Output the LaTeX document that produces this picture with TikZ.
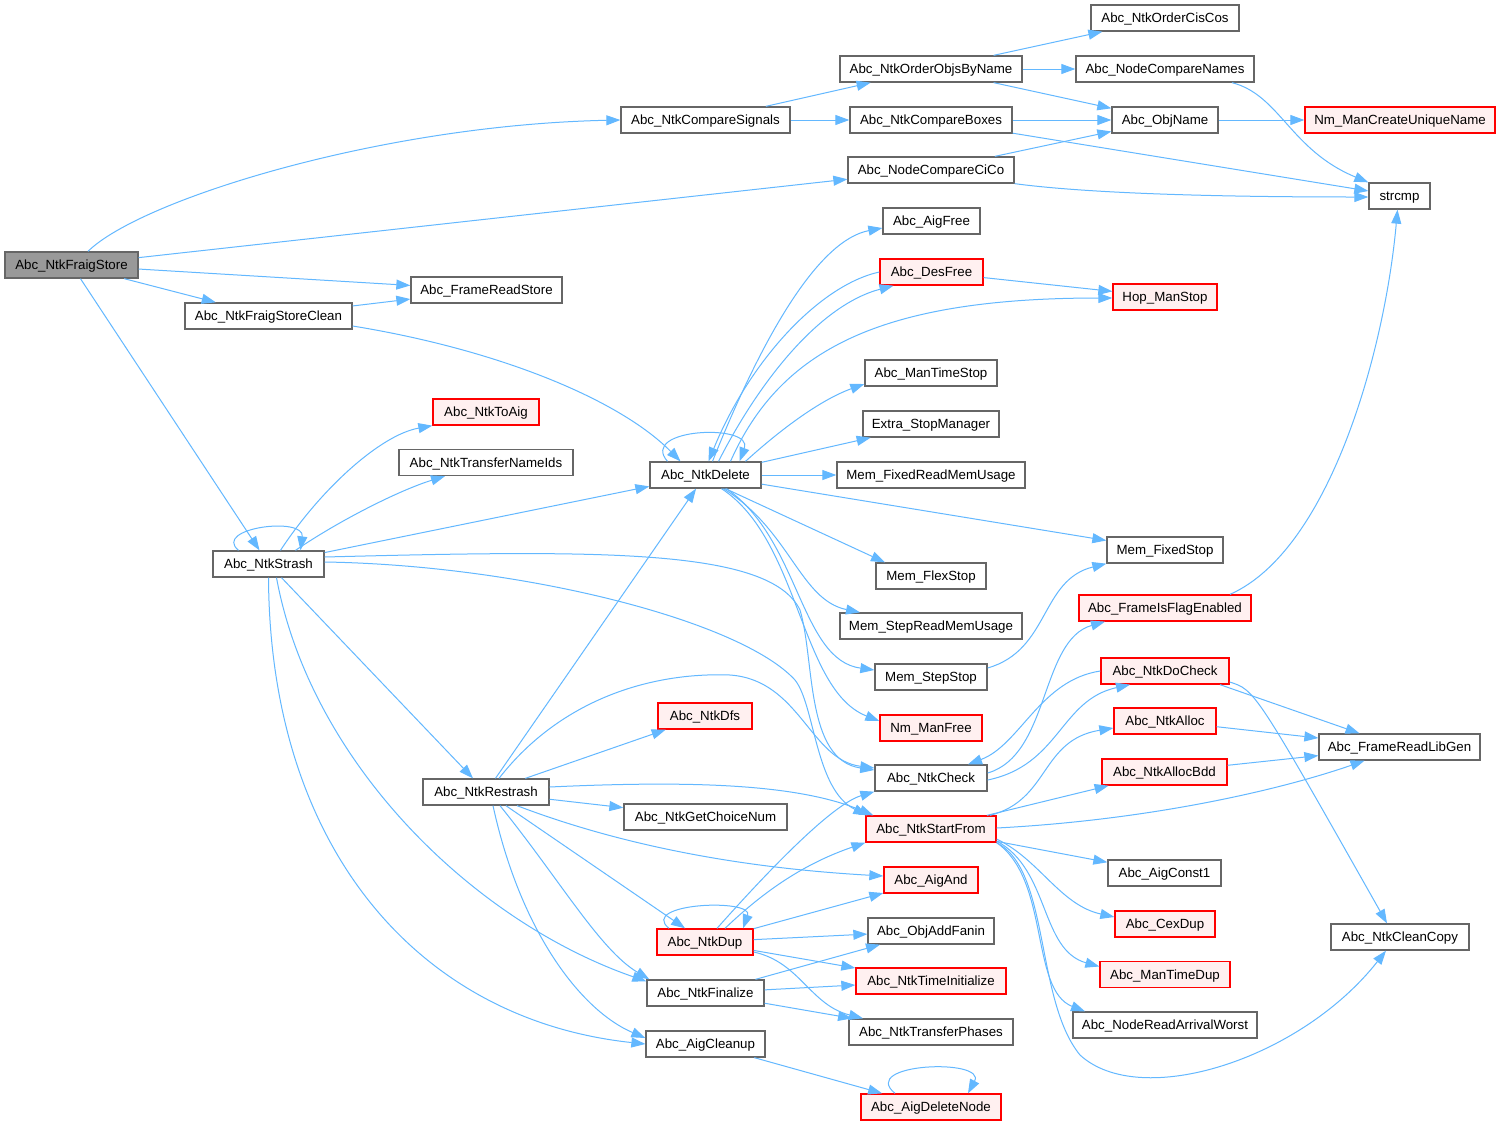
\documentclass[tikz,border=0pt]{standalone}
\usepackage{fontspec}
\setmainfont{Liberation Sans}
\usetikzlibrary{arrows.meta}
\definecolor{edgeblue}{HTML}{63B8FF}
\definecolor{nodegray}{HTML}{666666}
\definecolor{nodered}{HTML}{FF0000}
\definecolor{nodepink}{HTML}{FFF0F0}
\definecolor{rootgray}{HTML}{999999}
\newcommand{\fsz}{\fontsize{13.3}{16}\selectfont}
\tikzset{
  box/.style={draw=nodegray, fill=white, line width=1.3pt, minimum height=26pt, inner sep=0pt, text height=9.6pt, text depth=0pt, font=\fsz, text=black},
  redbox/.style={box, draw=nodered, fill=nodepink},
  rootbox/.style={box, fill=rootgray},
  e/.style={draw=edgeblue, line width=1pt, -{Triangle[length=14pt,width=10pt]}}
}
\begin{document}
\begin{tikzpicture}[x=1pt,y=-1pt]
\useasboundingbox[fill=white] (0,0) rectangle (1500,1125);
% nodes
\node[rootbox, minimum width=133pt] (fs) at (71.5,265) {Abc\_NtkFraigStore};
\node[box, minimum width=167pt] (fsc) at (268.5,316) {Abc\_NtkFraigStoreClean};
\node[box, minimum width=169pt] (cs) at (705.5,120) {Abc\_NtkCompareSignals};
\node[box, minimum width=182pt] (oobn) at (931,69) {Abc\_NtkOrderObjsByName};
\node[box, minimum width=162pt] (cb) at (931,120) {Abc\_NtkCompareBoxes};
\node[box, minimum width=166pt] (ncc) at (931,170) {Abc\_NodeCompareCiCo};
\node[box, minimum width=148pt] (ocic) at (1165,18) {Abc\_NtkOrderCisCos};
\node[box, minimum width=178pt] (ncn) at (1165,69) {Abc\_NodeCompareNames};
\node[box, minimum width=106pt] (on) at (1165,120) {Abc\_ObjName};
\node[redbox, minimum width=190pt] (nmcu) at (1400,120) {Nm\_ManCreateUniqueName};
\node[box, minimum width=61pt] (strcmp) at (1399.5,196) {strcmp};
\node[box, minimum width=151pt] (frs) at (486.5,290) {Abc\_FrameReadStore};
\node[box, minimum width=97pt] (aigfree) at (931.5,221) {Abc\_AigFree};
\node[redbox, minimum width=103pt] (desfree) at (931.5,272) {Abc\_DesFree};
\node[redbox, minimum width=104pt] (hop) at (1165,297) {Hop\_ManStop};
\node[box, minimum width=132pt] (mts) at (931,373) {Abc\_ManTimeStop};
\node[box, minimum width=136pt] (esm) at (931,424) {Extra\_StopManager};
\node[box, minimum width=111pt] (del) at (705.5,475) {Abc\_NtkDelete};
\node[box, minimum width=188pt] (mfrmu) at (931,475) {Mem\_FixedReadMemUsage};
\node[box, minimum width=116pt] (mfs) at (1165,550) {Mem\_FixedStop};
\node[box, minimum width=110pt] (mflex) at (931,576) {Mem\_FlexStop};
\node[box, minimum width=182pt] (msrmu) at (931,626) {Mem\_StepReadMemUsage};
\node[box, minimum width=112pt] (mss) at (931,677) {Mem\_StepStop};
\node[redbox, minimum width=102pt] (nmfree) at (931,728) {Nm\_ManFree};
\node[box, minimum width=112pt] (chk) at (931,778) {Abc\_NtkCheck};
\node[redbox, minimum width=130pt] (sf) at (931,829) {Abc\_NtkStartFrom};
\node[redbox, minimum width=94pt] (aigand) at (931,880) {Abc\_AigAnd};
\node[box, minimum width=126pt] (oaf) at (931,931) {Abc\_ObjAddFanin};
\node[redbox, minimum width=150pt] (nti) at (931,981) {Abc\_NtkTimeInitialize};
\node[box, minimum width=164pt] (ntp) at (931,1032) {Abc\_NtkTransferPhases};
\node[redbox, minimum width=140pt] (adn) at (931,1107) {Abc\_AigDeleteNode};
\node[redbox, minimum width=106pt] (toaig) at (486,412) {Abc\_NtkToAig};
\node[box, minimum width=174pt] (tni) at (486,462.5) {Abc\_NtkTransferNameIds};
\node[box, minimum width=111pt] (strash) at (268.5,564) {Abc\_NtkStrash};
\node[redbox, minimum width=94pt] (dfs) at (705,716) {Abc\_NtkDfs};
\node[box, minimum width=126pt] (restrash) at (486,792) {Abc\_NtkRestrash};
\node[box, minimum width=163pt] (gcn) at (705.5,817) {Abc\_NtkGetChoiceNum};
\node[redbox, minimum width=96pt] (dup) at (705,942) {Abc\_NtkDup};
\node[box, minimum width=117pt] (fin) at (705.5,993) {Abc\_NtkFinalize};
\node[box, minimum width=119pt] (clean) at (705.5,1044) {Abc\_AigCleanup};
\node[redbox, minimum width=172pt] (fife) at (1165,608) {Abc\_FrameIsFlagEnabled};
\node[redbox, minimum width=128pt] (docheck) at (1165,671) {Abc\_NtkDoCheck};
\node[redbox, minimum width=102pt] (alloc) at (1165,721) {Abc\_NtkAlloc};
\node[redbox, minimum width=125pt] (allocbdd) at (1164.5,772) {Abc\_NtkAllocBdd};
\node[box, minimum width=161pt] (libgen) at (1399.5,747) {Abc\_FrameReadLibGen};
\node[box, minimum width=113pt] (const1) at (1164.5,873) {Abc\_AigConst1};
\node[redbox, minimum width=100pt] (cex) at (1165,924) {Abc\_CexDup};
\node[redbox, minimum width=130pt] (mtd) at (1165,974.5) {Abc\_ManTimeDup};
\node[box, minimum width=184pt] (nraw) at (1165,1025) {Abc\_NodeReadArrivalWorst};
\node[box, minimum width=138pt] (ccopy) at (1400,937) {Abc\_NtkCleanCopy};
% edges from Abc_NtkFraigStore
\draw[e] ([xshift=16.5pt]fs.north) .. controls (140,200) and (380,125) .. (cs.west);
\draw[e] (fs) -- (ncc);
\draw[e] (fs) -- (frs);
\draw[e] (fs) -- (fsc);
\draw[e] (fs) -- (strash);
\draw[e] (fsc) -- (frs);
\draw[e] ([yshift=-10pt]fsc.east) .. controls (500,350) and (620,400) .. ([xshift=-25pt]del.north);
% compare signals group
\draw[e] (cs) -- (oobn);
\draw[e] (cs) -- (cb);
\draw[e] (oobn) -- (ocic);
\draw[e] (oobn) -- (ncn);
\draw[e] (oobn) -- (on);
\draw[e] (cb) -- (on);
\draw[e] (cb) -- (strcmp);
\draw[e] (ncc) -- (on);
\draw[e] (ncc.south east) .. controls (1100,195) and (1250,197) .. ([yshift=-1pt]strcmp.west);
\draw[e] ([xshift=67pt]ncn.south) .. controls (1280,95) and (1290,150) .. (strcmp.north west);
\draw[e] (on) -- (nmcu);
\draw[e] ([xshift=65pt]fife.north) .. controls (1330,550) and (1385,350) .. ([xshift=-2pt]strcmp.south);
% Abc_NtkStrash
\draw[e] ([xshift=-30pt]strash.north) .. controls (212,528) and (305,516) .. ([xshift=32pt]strash.north);
\draw[e] ([xshift=12pt]strash.north) .. controls (320,490) and (380,435) .. (toaig.south west);
\draw[e] ([xshift=27pt]strash.north) .. controls (340,520) and (400,490) .. ([xshift=-41pt]tni.south);
\draw[e] (strash) -- (del);
\draw[e] ([yshift=7pt]strash.east) .. controls (600,550) and (770,548) .. (800,610) .. controls (815,660) and (805,760) .. ([yshift=8pt]chk.west);
\draw[e] ([yshift=2pt]strash.east) .. controls (520,565) and (740,620) .. (795,680) .. controls (815,705) and (815,790) .. ([xshift=2pt]sf.north west);
\draw[e] (strash) -- (restrash);
\draw[e] ([xshift=8pt]strash.south) .. controls (310,760) and (470,920) .. ([yshift=-2pt]fin.north west);
\draw[e] (strash.south) .. controls (270,850) and (420,1020) .. (clean.west);
% Abc_NtkRestrash
\draw[e] (restrash) -- (del);
\draw[e] (restrash) -- (dfs);
\draw[e] ([xshift=13pt]restrash.north) .. controls (560,700) and (650,672) .. (730,675) .. controls (800,680) and (810,760) .. ([yshift=10pt]chk.west);
\draw[e] ([yshift=5pt]restrash.east) .. controls (700,780) and (800,785) .. ([xshift=8pt]sf.north west);
\draw[e] (restrash) -- (gcn);
\draw[e] ([xshift=31pt]restrash.south) .. controls (620,845) and (740,868) .. ([yshift=4pt]aigand.west);
\draw[e] (restrash) -- (dup);
\draw[e] ([xshift=14pt]restrash.south) .. controls (560,880) and (600,950) .. ([xshift=3pt]fin.north west);
\draw[e] ([xshift=7pt]restrash.south) .. controls (520,930) and (580,1010) .. ([yshift=6pt]clean.west);
% Abc_NtkDelete
\draw[e] ([xshift=-38pt]del.north) .. controls (638,428) and (754,423) .. ([xshift=34pt]del.north);
\draw[e] ([xshift=7pt]del.north) .. controls (765,330) and (820,240) .. ([yshift=-7pt]aigfree.west);
\draw[e] ([xshift=13pt]del.north) .. controls (760,380) and (820,305) .. ([xshift=-38pt]desfree.south);
\draw[e] (desfree.west) .. controls (820,285) and (750,360) .. ([xshift=3pt]del.north);
\draw[e] ([xshift=25pt]del.north) .. controls (780,350) and (880,298) .. ([yshift=-1pt]hop.west);
\draw[e] (desfree) -- (hop);
\draw[e] ([xshift=40pt]del.north) .. controls (780,430) and (820,400) .. ([yshift=-11pt]mts.west);
\draw[e] (del) -- (esm);
\draw[e] (del) -- (mfrmu);
\draw[e] (del) -- (mfs);
\draw[e] ([xshift=20pt]del.south) -- ([xshift=-46pt]mflex.north);
\draw[e] ([xshift=18pt]del.south) .. controls (790,530) and (800,600) .. ([xshift=-71pt]msrmu.north);
\draw[e] ([xshift=21pt]del.south) .. controls (800,540) and (800,660) .. ([yshift=7pt]mss.west);
\draw[e] ([xshift=16pt]del.south) .. controls (800,540) and (800,690) .. ([yshift=7pt]nmfree.west);
% Abc_NtkCheck
\draw[e] ([yshift=5pt]chk.east) .. controls (1050,755) and (1040,640) .. ([xshift=-60pt]fife.south);
\draw[e] ([yshift=-2pt]chk.east) .. controls (1060,765) and (1060,700) .. ([xshift=-35pt]docheck.south);
\draw[e] (docheck.west) .. controls (1040,680) and (1020,745) .. ([xshift=37pt]chk.north);
% Abc_NtkStartFrom
\draw[e] ([xshift=59pt]sf.north) .. controls (1050,800) and (1040,740) .. ([yshift=-7pt]alloc.west);
\draw[e] (sf) -- (allocbdd);
\draw[e] ([yshift=1pt]sf.east) .. controls (1150,820) and (1280,790) .. ([xshift=-35pt]libgen.south);
\draw[e] (sf) -- (const1);
\draw[e] ([yshift=-10pt]sf.east) .. controls (1040,860) and (1060,905) .. ([yshift=7pt]cex.west);
\draw[e] ([yshift=-12pt]sf.east) .. controls (1050,870) and (1040,950) .. ([yshift=8pt]mtd.west);
\draw[e] (sf.south east) .. controls (1050,880) and (1030,990) .. ([xshift=-80pt]nraw.north);
\draw[e] (sf.south east) .. controls (1050,870) and (1035,1000) .. (1080,1055) .. controls (1140,1110) and (1300,1060) .. ([xshift=-14pt]ccopy.south);
% Abc_NtkDoCheck etc
\draw[e] ([xshift=55pt]docheck.south) -- ([xshift=-40pt]libgen.north);
\draw[e] ([yshift=-11pt]docheck.east) .. controls (1255,690) .. ([xshift=-13pt]ccopy.north);
\draw[e] (alloc) -- (libgen);
\draw[e] (allocbdd) -- (libgen);
\draw[e] ([yshift=9pt]mss.east) .. controls (1050,650) and (1040,580) .. (mfs.south west);
% Abc_NtkDup
\draw[e] ([xshift=-36pt]dup.north) .. controls (638,903) and (754,898) .. ([xshift=38pt]dup.north);
\draw[e] ([xshift=12pt]dup.north) .. controls (760,880) and (830,805) .. (chk.south west);
\draw[e] ([xshift=20pt]dup.north) .. controls (760,895) and (800,865) .. (sf.south west);
\draw[e] (dup) -- (aigand);
\draw[e] (dup) -- (oaf);
\draw[e] (dup) -- (nti);
\draw[e] ([yshift=-10pt]dup.east) .. controls (800,962) and (810,1005) .. ([xshift=-68pt]ntp.north);
% Abc_NtkFinalize, Abc_AigCleanup
\draw[e] ([xshift=50pt]fin.north) -- ([xshift=-51pt]oaf.south);
\draw[e] (fin) -- (nti);
\draw[e] (fin) -- (ntp);
\draw[e] (clean) -- (adn);
\draw[e] ([xshift=-36pt]adn.north) .. controls (858,1063) and (987,1058) .. ([xshift=37pt]adn.north);
\end{tikzpicture}
\end{document}
